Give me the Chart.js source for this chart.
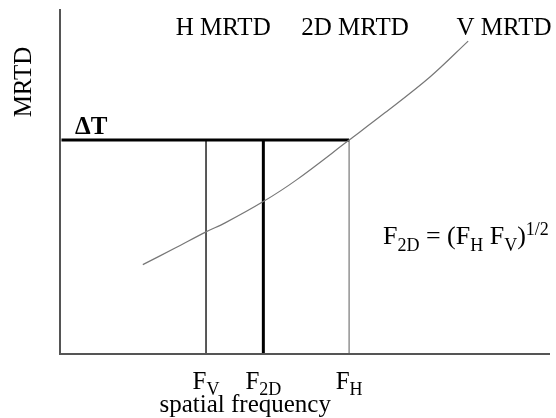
<!DOCTYPE html>
<html>
<head>
<meta charset="utf-8">
<script src="https://cdn.jsdelivr.net/npm/chart.js@4"></script>
<style>
html,body{margin:0;padding:0;background:#fff;}
#wrap{width:556px;height:418px;}
</style>
</head>
<body>
<div id="wrap"><canvas id="c" width="556" height="418"></canvas></div>
<script>
// ---- data ----
const curveX = [1.69, 2.35, 2.98, 3.37, 4.14, 4.82, 5.90, 6.63, 7.55, 8.33];
const curveY = [2.59, 3.07, 3.54, 3.80, 4.41, 5.04, 6.20, 6.99, 8.03, 9.07];
const deltaT = 6.2;
const freqNames = ["V", "2D", "H"];
const freqValues = [2.98, 4.15, 5.90];
const curveLabels = ["H MRTD", "2D MRTD", "V MRTD"];
const curveLabelX = [3.33, 6.02, 9.06];
const xTitle = "spatial frequency";
const yTitle = "MRTD";
const axisMax = 10;

const SERIF = '"Liberation Serif","Times New Roman",serif';

function drawRich(ctx, segs, x, y, align, size) {
  const sub = Math.round(size * 0.7);
  let total = 0;
  const parts = segs.map(s => {
    const fs = s[1] === 'n' ? size : sub;
    ctx.font = fs + 'px ' + SERIF;
    const w = ctx.measureText(s[0]).width;
    total += w;
    return {t: s[0], m: s[1], fs, w};
  });
  let cx = align === 'center' ? x - total / 2 : x;
  ctx.textAlign = 'left';
  ctx.textBaseline = 'alphabetic';
  ctx.fillStyle = '#000';
  parts.forEach(p => {
    ctx.font = p.fs + 'px ' + SERIF;
    const dy = p.m === 'sub' ? size * 0.25 : (p.m === 'sup' ? -size * 0.36 : 0);
    ctx.fillText(p.t, cx, y + dy);
    cx += p.w;
  });
}

const textPlugin = {
  id: 'texts',
  afterDatasetsDraw(chart) {
    const ctx = chart.ctx;
    const xs = chart.scales.x;
    ctx.save();
    const FS = 25;
    curveLabels.forEach((t, i) => {
      drawRich(ctx, [[t, 'n']], xs.getPixelForValue(curveLabelX[i]), 35, 'center', FS);
    });
    freqNames.forEach((n, i) => {
      drawRich(ctx, [["F", 'n'], [n, 'sub']], xs.getPixelForValue(freqValues[i]), 389, 'center', FS);
    });
    drawRich(ctx, [[xTitle, 'n']], xs.getPixelForValue(3.78), 412, 'center', FS);
    ctx.save();
    ctx.translate(31, 82);
    ctx.rotate(-Math.PI / 2);
    drawRich(ctx, [[yTitle, 'n']], 0, 0, 'center', FS);
    ctx.restore();
    ctx.font = 'bold 25px ' + SERIF;
    ctx.fillStyle = '#000';
    ctx.textAlign = 'left';
    ctx.fillText('\u0394T', 75, 134);
    drawRich(ctx, [["F", 'n'], ["2D", 'sub'], [" = (F", 'n'], ["H", 'sub'], [" F", 'n'], ["V", 'sub'], [")", 'n'], ["1/2", 'sup']], 383, 244, 'left', 26);
    ctx.restore();
  }
};

const pts = curveX.map((x, i) => ({x, y: curveY[i]}));
const datasets = [
  {data: [{x: 0, y: axisMax}, {x: 0, y: 0}, {x: axisMax, y: 0}], borderColor: '#555', borderWidth: 2, tension: 0},
  {data: pts, borderColor: '#777', borderWidth: 1.2, tension: 0.35},
  {data: [{x: 0.03, y: deltaT}, {x: freqValues[2], y: deltaT}], borderColor: '#000', borderWidth: 3, tension: 0},
  {data: [{x: freqValues[0], y: 0}, {x: freqValues[0], y: deltaT}], borderColor: '#222', borderWidth: 1.5, tension: 0},
  {data: [{x: freqValues[1], y: 0}, {x: freqValues[1], y: deltaT}], borderColor: '#000', borderWidth: 3, tension: 0},
  {data: [{x: freqValues[2], y: 0}, {x: freqValues[2], y: deltaT}], borderColor: '#777', borderWidth: 1.2, tension: 0}
].map(d => Object.assign({pointRadius: 0, fill: false, clip: false, borderCapStyle: 'butt'}, d));

new Chart(document.getElementById('c'), {
  type: 'line',
  data: {datasets},
  options: {
    responsive: false,
    animation: false,
    devicePixelRatio: 1,
    layout: {padding: {left: 60, right: 6, top: 9, bottom: 64}},
    plugins: {legend: {display: false}, tooltip: {enabled: false}},
    scales: {
      x: {type: 'linear', min: 0, max: axisMax, display: false},
      y: {type: 'linear', min: 0, max: axisMax, display: false}
    }
  },
  plugins: [textPlugin]
});
</script>
</body>
</html>
